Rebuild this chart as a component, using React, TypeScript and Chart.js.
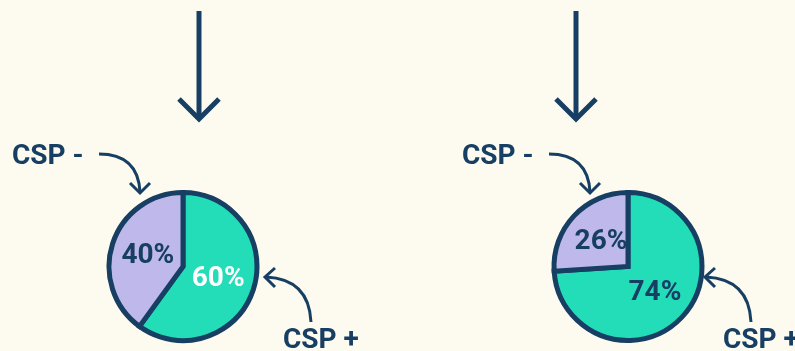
import React, { useEffect, useRef } from "react";
import { Chart, registerables } from "chart.js";

Chart.register(...registerables);

const categories = ["CSP +", "CSP -"];
const leftValues = [60, 40];
const rightValues = [74, 26];
const leftLabelColors = ["#FFFFFF", "#173E63"];
const rightLabelColors = ["#173E63", "#173E63"];

const BG = "#FDFBEF";
const NAVY = "#173E63";
const TEAL = "#23DCB8";
const LAVENDER = "#BEB9EA";
const FONT = "bold 28px Roboto, 'DejaVu Sans', sans-serif";

const W = 795;
const H = 351;

function drawArrowLine(ctx: CanvasRenderingContext2D, pts: number[][]) {
  ctx.beginPath();
  ctx.moveTo(pts[0][0], pts[0][1]);
  for (let i = 1; i < pts.length; i++) ctx.lineTo(pts[i][0], pts[i][1]);
  ctx.stroke();
}

function decorate(ctx: CanvasRenderingContext2D, dx: number, dxPlus: number, topX: number) {
  // vertical arrow at top
  ctx.lineWidth = 5;
  ctx.lineCap = "butt";
  ctx.lineJoin = "miter";
  drawArrowLine(ctx, [[topX, 11], [topX, 119]]);
  drawArrowLine(ctx, [[topX - 20, 99], [topX, 119], [topX + 20, 99]]);

  // CSP - label and curved arrow
  ctx.fillStyle = NAVY;
  ctx.font = FONT;
  ctx.textBaseline = "alphabetic";
  ctx.textAlign = "left";
  ctx.fillText(categories[1], 12 + dx, 164);
  ctx.lineWidth = 3;
  ctx.beginPath();
  ctx.moveTo(99 + dx, 154);
  ctx.quadraticCurveTo(138 + dx, 154, 140 + dx, 192);
  ctx.stroke();
  drawArrowLine(ctx, [[130 + dx, 183], [140 + dx, 193], [150 + dx, 183]]);

  // CSP + label and curved arrow
  ctx.fillText(categories[0], 283 + dxPlus, 348);
  ctx.beginPath();
  ctx.moveTo(311 + dxPlus, 322);
  ctx.quadraticCurveTo(309 + dxPlus, 279, 266 + dxPlus, 277);
  ctx.stroke();
  drawArrowLine(ctx, [[275 + dxPlus, 268], [265 + dxPlus, 277], [275 + dxPlus, 287]]);
}

const valueLabels = (colors: string[]) => ({
  id: "valueLabels",
  afterDatasetsDraw(chart: any) {
    const ctx = chart.ctx;
    const meta = chart.getDatasetMeta(0);
    const data = chart.data.datasets[0].data;
    ctx.save();
    ctx.font = FONT;
    ctx.textAlign = "center";
    ctx.textBaseline = "middle";
    meta.data.forEach((arc: any, i: number) => {
      const p = arc.tooltipPosition();
      ctx.fillStyle = colors[i];
      ctx.fillText(data[i] + "%", p.x, p.y + 1);
    });
    ctx.restore();
  },
});

const decorations = {
  id: "decorations",
  afterDraw(chart: any) {
    const ctx = chart.ctx;
    ctx.save();
    ctx.strokeStyle = NAVY;
    ctx.fillStyle = NAVY;
    decorate(ctx, 0, 0, 199);
    decorate(ctx, 450, 440, 576);
    ctx.restore();
  },
};

function makeChart(canvas: HTMLCanvasElement, values: number[], colors: string[], padLeft: number, padRight: number, extra: any[]) {
  return new Chart(canvas, {
    type: "pie",
    data: {
      labels: categories,
      datasets: [
        {
          data: values,
          backgroundColor: [TEAL, LAVENDER],
          borderColor: NAVY,
          borderWidth: 5,
          borderJoinStyle: "miter",
        } as any,
      ],
    },
    options: {
      responsive: false,
      animation: false,
      layout: { padding: { left: padLeft, right: padRight, top: 190, bottom: 8 } },
      plugins: { legend: { display: false }, tooltip: { enabled: false } },
    },
    plugins: [valueLabels(colors), ...extra],
  });
}

export default function App() {
  const leftRef = useRef<HTMLCanvasElement>(null);
  const rightRef = useRef<HTMLCanvasElement>(null);

  useEffect(() => {
    const a = makeChart(leftRef.current!, leftValues, leftLabelColors, 106.5, W - 259.5, [decorations]);
    const b = makeChart(rightRef.current!, rightValues, rightLabelColors, 551.5, W - 704.5, []);
    return () => {
      a.destroy();
      b.destroy();
    };
  }, []);

  const canvasStyle: React.CSSProperties = { position: "absolute", left: 0, top: 0, width: W, height: H };
  return (
    <div style={{ position: "fixed", left: 0, top: 0, width: W, height: H, background: BG, overflow: "hidden" }}>
      <canvas ref={leftRef} width={W} height={H} style={canvasStyle} />
      <canvas ref={rightRef} width={W} height={H} style={canvasStyle} />
    </div>
  );
}
